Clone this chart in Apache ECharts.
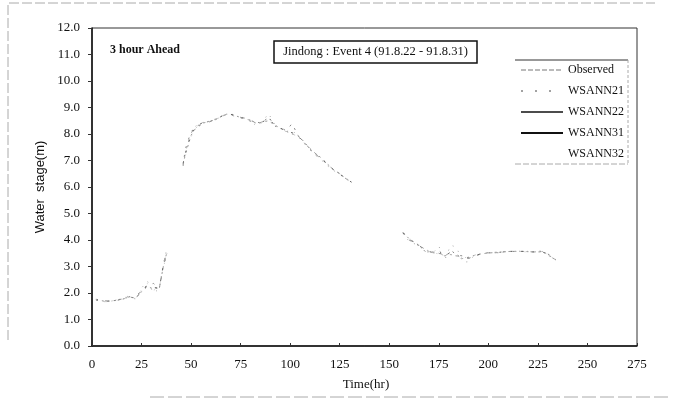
<!DOCTYPE html>
<html>
<head>
<meta charset="utf-8">
<script src="https://cdn.jsdelivr.net/npm/echarts@6/dist/echarts.min.js"></script>
<style>html,body{margin:0;padding:0;background:#fff}#c{width:675px;height:401px}</style>
</head>
<body>
<div id="c"></div>
<script>
const hours = [2,7,13,19,22,25,28,31,34,36, 38,41,46,47,50,53,56,59,62,65, 68,71,74,77,80,83,86,89,92,95, 98,101,104,107,110,113,116,119,122,125, 128,131,144,157,160,163,166,169,172,175, 178,181,184,187,190,193,196,199,202,205, 208,211,214,217,220,223,226,229,232,234];
const observed = [1.75,1.68,1.73,1.85,1.80,2.05,2.25,2.15,2.20,3.00, 3.60,null,6.85,7.20,7.95,8.30,8.42,8.45,8.55,8.65, 8.75,8.72,8.65,8.60,8.52,8.40,8.45,8.50,8.35,8.22, 8.10,8.00,7.95,7.70,7.45,7.25,7.08,6.85,6.65,6.50, 6.33,6.18,null,4.28,4.05,3.90,3.75,3.60,3.52,3.50, 3.40,3.45,3.40,3.30,3.35,3.42,3.47,3.50,3.52,3.52, 3.55,3.57,3.57,3.57,3.56,3.55,3.55,3.50,3.35,3.25];
const wsann21 = [1.76,1.66,1.74,1.90,1.76,2.19,2.44,2.00,2.16,3.12, 3.75,null,6.87,7.27,8.03,8.36,8.44,8.45,8.55,8.63, 8.75,8.74,8.65,8.59,8.50,8.30,8.44,8.78,8.40,8.21, 8.09,8.15,7.90,7.65,7.40,7.18,7.00,6.79,6.62,6.48, 6.30,6.18,null,4.28,3.94,3.85,3.71,3.55,3.50,3.77, 3.25,3.81,3.72,3.16,3.18,3.42,3.47,3.52,3.52,3.52, 3.57,3.57,3.57,3.58,3.57,3.53,3.62,3.50,3.30,3.25];
const wsann22 = [1.74,1.70,1.72,1.84,1.82,2.11,2.30,2.36,2.18,3.03, 3.50,null,6.80,7.40,8.10,8.25,8.40,8.48,8.52,8.68, 8.73,8.70,8.62,8.58,8.48,8.46,8.38,8.68,8.30,8.25, 8.12,8.40,7.92,7.68,7.42,7.22,7.05,6.82,6.66,6.50, 6.32,6.17,null,4.25,4.00,3.88,3.73,3.50,3.55,3.55, 3.35,3.62,3.43,3.40,3.30,3.40,3.46,3.51,3.53,3.54, 3.56,3.58,3.56,3.57,3.57,3.54,3.58,3.52,3.38,3.26];
const wsann31 = [1.75,1.69,1.73,1.86,1.79,2.08,2.28,2.20,2.20,3.05, 3.65,null,6.90,7.25,8.00,8.32,8.43,8.46,8.54,8.66, 8.76,8.73,8.64,8.60,8.51,8.42,8.46,8.55,8.37,8.23, 8.10,8.05,7.93,7.69,7.44,7.23,7.06,6.84,6.64,6.49, 6.32,6.18,null,4.27,4.02,3.89,3.74,3.58,3.53,3.60, 3.38,3.55,3.45,3.28,3.32,3.41,3.47,3.51,3.52,3.53, 3.56,3.57,3.57,3.57,3.56,3.55,3.56,3.51,3.34,3.25];
const wsann32 = [1.77,1.67,1.75,1.88,1.78,2.13,2.35,2.10,2.22,2.95, 3.55,null,6.82,7.15,7.90,8.28,8.41,8.47,8.56,8.64, 8.74,8.71,8.66,8.61,8.53,8.38,8.47,8.60,8.33,8.20, 8.08,7.98,7.94,7.71,7.46,7.26,7.09,6.86,6.66,6.51, 6.34,6.19,null,4.29,4.06,3.91,3.76,3.62,3.51,3.48, 3.42,3.48,3.38,3.32,3.36,3.43,3.48,3.50,3.51,3.52, 3.54,3.56,3.58,3.56,3.55,3.56,3.54,3.49,3.36,3.24];
const seriesNames = ['Observed','WSANN21','WSANN22','WSANN31','WSANN32'];
const xTicks = {min:0, max:275, step:25};
const yTicks = {min:0, max:12, step:1};

const serif = '"Liberation Serif","DejaVu Serif",serif';
const pair = arr => hours.map((h,i) => [h, arr[i]]);
const chart = echarts.init(document.getElementById('c'), null, {renderer:'canvas'});

const lineStyles = [
  {color:'#9a9a9a', width:1, type:[2,4]},
  {color:'#a8a8a8', width:1, type:[1,7]},
  {color:'#888', width:1, type:[2,7]},
  {color:'#666', width:1, type:[2,9]},
  {color:'#c4c4c4', width:1, type:[1,9]}
];
const legendStyles = [
  {color:'#777', width:1, type:[5,2]},
  {color:'#444', width:1, type:[2,12]},
  {color:'#111', width:1.5, type:'solid'},
  {color:'#111', width:2, type:'solid'},
  {color:'rgba(255,255,255,0)', width:1, type:'solid'}
];
const allData = [observed, wsann21, wsann22, wsann31, wsann32];

chart.setOption({
  animation:false,
  backgroundColor:'#fff',
  grid:{left:92, top:28, right:38, bottom:55, show:true, borderColor:'#333', borderWidth:1},
  xAxis:{type:'value', min:xTicks.min, max:xTicks.max, interval:xTicks.step,
    axisLine:{show:true, onZero:false, lineStyle:{color:'#111', width:1.5}},
    axisTick:{show:true, inside:true, length:3, lineStyle:{color:'#333'}},
    splitLine:{show:false},
    axisLabel:{color:'#111', fontFamily:serif, fontSize:13, margin:12}},
  yAxis:{type:'value', min:yTicks.min, max:yTicks.max, interval:yTicks.step,
    axisLine:{show:true, onZero:false, lineStyle:{color:'#111', width:1.5}},
    axisTick:{show:true, inside:false, length:4, lineStyle:{color:'#333'}},
    splitLine:{show:false},
    axisLabel:{color:'#111', fontFamily:serif, fontSize:13, margin:12, formatter:v=>v.toFixed(1)}},
  legend:{orient:'vertical', left:520, top:64, padding:0, itemWidth:42, itemHeight:12, itemGap:9,
    itemStyle:{opacity:0},
    textStyle:{fontFamily:serif, fontSize:12, color:'#111'},
    data:seriesNames.map((n,i)=>({name:n, itemStyle:{opacity:0}, lineStyle:legendStyles[i]}))},
  series:seriesNames.map((n,i)=>({name:n, type:'line', data:pair(allData[i]), symbol:'none', connectNulls:false,
    itemStyle:{color:lineStyles[i].color}, lineStyle:lineStyles[i], z:2})),
  graphic:[
    {type:'polyline', shape:{points:[[8,340],[8,3],[655,3]]}, style:{stroke:'#aaa', lineWidth:1, lineDash:[10,3], fill:null}, silent:true},
    {type:'line', shape:{x1:150, y1:397, x2:672, y2:397}, style:{stroke:'#aaa', lineWidth:1, lineDash:[14,4]}, silent:true},
    {type:'line', shape:{x1:515, y1:60, x2:628, y2:60}, style:{stroke:'#333', lineWidth:1}, silent:true},
    {type:'line', shape:{x1:628, y1:60, x2:628, y2:164}, style:{stroke:'#aaa', lineWidth:1, lineDash:[3,2]}, silent:true},
    {type:'line', shape:{x1:515, y1:164, x2:628, y2:164}, style:{stroke:'#aaa', lineWidth:1, lineDash:[6,2]}, silent:true},
    {type:'text', left:110, top:44, style:{text:'3 hour Ahead', font:'bold 12px '+serif, fill:'#111'}, silent:true},
    {type:'rect', shape:{x:274, y:41, width:203, height:22}, style:{fill:'#fff', stroke:'#111', lineWidth:1.5}, z:10, silent:true},
    {type:'text', x:375.5, y:52, z:11, style:{text:'Jindong : Event 4 (91.8.22 - 91.8.31)', font:'12.5px '+serif, fill:'#111', align:'center', verticalAlign:'middle'}, silent:true},
    {type:'text', x:40, y:187, rotation:Math.PI/2, style:{text:'Water  stage(m)', font:'13px "Liberation Sans",Arial,sans-serif', fill:'#111', align:'center', verticalAlign:'middle'}, silent:true},
    {type:'text', x:366, y:385, style:{text:'Time(hr)', font:'13px '+serif, fill:'#111', align:'center', verticalAlign:'middle'}, silent:true}
  ]
});
</script>
</body>
</html>
